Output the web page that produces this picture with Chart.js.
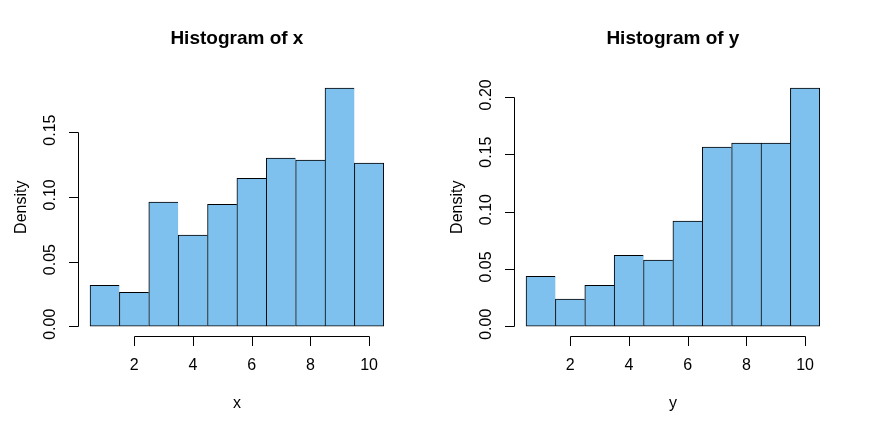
<!DOCTYPE html>
<html>
<head>
<meta charset="utf-8">
<script src="https://cdn.jsdelivr.net/npm/chart.js@4/dist/chart.umd.min.js"></script>
<style>
  body { margin: 0; background: #fff; }
  .panel { position: absolute; top: 0; width: 436px; height: 434px; }
</style>
</head>
<body>
<div class="panel" style="left:0"><canvas id="histX" width="436" height="434"></canvas></div>
<div class="panel" style="left:436px"><canvas id="histY" width="436" height="434"></canvas></div>
<script>
// bin centres (bins of width 1 from 0.5 to 10.5)
const binCenters = [1, 2, 3, 4, 5, 6, 7, 8, 9, 10];
const densityX = [0.0317, 0.0263, 0.0959, 0.0704, 0.0943, 0.1144, 0.1299, 0.1284, 0.1840, 0.1260];
const densityY = [0.0436, 0.0238, 0.0358, 0.0619, 0.0576, 0.0916, 0.1561, 0.1596, 0.1596, 0.2076];

const xTicks = [2, 4, 6, 8, 10];
const yTicksX = ['0.00', '0.05', '0.10', '0.15'];
const yTicksY = ['0.00', '0.05', '0.10', '0.15', '0.20'];

const FONT = '"Liberation Sans", Arial, sans-serif';

// R-style axes: lines only between first and last tick, rotated y labels
const rAxes = {
  id: 'rAxes',
  afterDraw(chart, args, opts) {
    const ctx = chart.ctx;
    const area = chart.chartArea;
    const xs = chart.scales.x, ys = chart.scales.y;
    const px = v => Math.round(v) + 0.5;
    ctx.save();
    ctx.strokeStyle = '#000';
    ctx.fillStyle = '#000';
    ctx.lineWidth = 1;

    // y axis
    const ax = px(area.left);
    const yVals = opts.yTicks.map(Number);
    ctx.beginPath();
    ctx.moveTo(ax, px(ys.getPixelForValue(yVals[0])));
    ctx.lineTo(ax, px(ys.getPixelForValue(yVals[yVals.length - 1])));
    yVals.forEach(v => {
      const y = px(ys.getPixelForValue(v));
      ctx.moveTo(ax, y);
      ctx.lineTo(ax - 9.5, y);
    });
    ctx.stroke();
    ctx.font = '16px ' + FONT;
    ctx.textAlign = 'center';
    ctx.textBaseline = 'middle';
    opts.yTicks.forEach((lab, i) => {
      ctx.save();
      ctx.translate(area.left - 27.5, ys.getPixelForValue(yVals[i]) - 2);
      ctx.rotate(-Math.PI / 2);
      ctx.fillText(lab, 0, 0);
      ctx.restore();
    });

    // x axis
    const ay = px(area.bottom);
    ctx.beginPath();
    ctx.moveTo(px(xs.getPixelForValue(xTicks[0])), ay);
    ctx.lineTo(px(xs.getPixelForValue(xTicks[xTicks.length - 1])), ay);
    xTicks.forEach(v => {
      const x = px(xs.getPixelForValue(v));
      ctx.moveTo(x, ay);
      ctx.lineTo(x, ay + 9.5);
    });
    ctx.stroke();
    xTicks.forEach(v => {
      ctx.fillText(String(v), xs.getPixelForValue(v), area.bottom + 29.5);
    });

    // axis titles
    const cx = (area.left + area.right) / 2;
    const cy = (area.top + area.bottom) / 2;
    ctx.fillText(opts.xTitle, cx, area.bottom + 68);
    ctx.save();
    ctx.translate(area.left - 57, cy);
    ctx.rotate(-Math.PI / 2);
    ctx.fillText('Density', 0, 0);
    ctx.restore();

    // main title
    ctx.font = 'bold 19px ' + FONT;
    ctx.fillText(opts.title, cx, 39);
    ctx.restore();
  }
};

function makeHist(id, values, yTicks, name) {
  const n = values.length;
  const ymax = Math.max(...values);
  new Chart(document.getElementById(id), {
    type: 'bar',
    data: {
      datasets: [{
        data: binCenters.map((c, i) => ({ x: c, y: values[i] })),
        backgroundColor: '#7EC0EE',
        borderColor: '#000',
        borderWidth: c => c.dataIndex === n - 1 ? 1 : { top: 1, left: 1, bottom: 1, right: 0 },
        borderSkipped: false,
        barPercentage: 1,
        categoryPercentage: 1
      }]
    },
    options: {
      responsive: false,
      devicePixelRatio: 1,
      animation: false,
      layout: { padding: { left: 78.3, right: 40.5, top: 78.6, bottom: 98.2 } },
      scales: {
        x: { type: 'linear', min: 0.1, max: 10.9, offset: false, display: false },
        y: { min: -0.04 * ymax, max: 1.04 * ymax, display: false }
      },
      plugins: {
        legend: { display: false },
        tooltip: { enabled: false },
        rAxes: { yTicks: yTicks, xTitle: name, title: 'Histogram of ' + name }
      }
    },
    plugins: [rAxes]
  });
}

makeHist('histX', densityX, yTicksX, 'x');
makeHist('histY', densityY, yTicksY, 'y');
</script>
</body>
</html>
